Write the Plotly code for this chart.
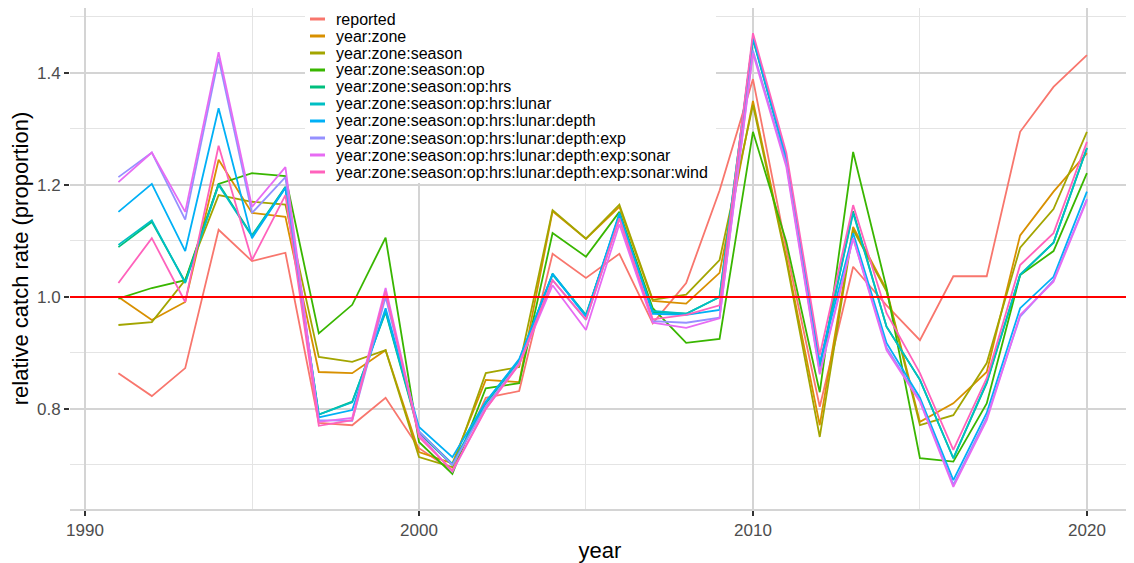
import plotly.graph_objects as go

years = list(range(1991, 2021))

series_names = [
    "reported",
    "year:zone",
    "year:zone:season",
    "year:zone:season:op",
    "year:zone:season:op:hrs",
    "year:zone:season:op:hrs:lunar",
    "year:zone:season:op:hrs:lunar:depth",
    "year:zone:season:op:hrs:lunar:depth:exp",
    "year:zone:season:op:hrs:lunar:depth:exp:sonar",
    "year:zone:season:op:hrs:lunar:depth:exp:sonar:wind",
]

colors = ["#F8766D", "#D89000", "#A3A500", "#39B600", "#00BF7D",
          "#00BFC4", "#00B0F6", "#9590FF", "#E76BF3", "#FF62BC"]

reported = [0.864, 0.823, 0.873, 1.120, 1.064, 1.079, 0.775, 0.771, 0.820, 0.730,
            0.690, 0.820, 0.832, 1.077, 1.034, 1.077, 0.953, 1.025, 1.190, 1.389,
            1.085, 0.804, 1.054, 0.985, 0.923, 1.037, 1.037, 1.295, 1.375, 1.432]
zone = [1.000, 0.959, 0.991, 1.245, 1.150, 1.143, 0.866, 0.864, 0.905, 0.723,
        0.703, 0.852, 0.848, 1.153, 1.104, 1.161, 0.993, 0.988, 1.043, 1.350,
        1.070, 0.771, 1.125, 1.013, 0.777, 0.810, 0.866, 1.110, 1.188, 1.257]
season = [0.950, 0.955, 1.030, 1.182, 1.170, 1.165, 0.893, 0.884, 0.905, 0.714,
          0.696, 0.864, 0.875, 1.155, 1.104, 1.165, 0.995, 1.004, 1.066, 1.343,
          1.065, 0.750, 1.120, 1.010, 0.771, 0.789, 0.882, 1.088, 1.157, 1.295]
op = [0.997, 1.016, 1.030, 1.202, 1.221, 1.216, 0.935, 0.986, 1.106, 0.741,
      0.684, 0.837, 0.846, 1.114, 1.072, 1.152, 0.980, 0.918, 0.925, 1.295,
      1.098, 0.830, 1.259, 1.016, 0.712, 0.706, 0.810, 1.039, 1.082, 1.221]
hrs = [1.089, 1.134, 1.027, 1.202, 1.110, 1.197, 0.790, 0.813, 0.973, 0.757,
       0.700, 0.810, 0.886, 1.040, 0.968, 1.145, 0.973, 0.970, 1.000, 1.460,
       1.245, 0.875, 1.153, 0.947, 0.852, 0.712, 0.846, 1.039, 1.097, 1.266]
lunar = [1.093, 1.137, 1.025, 1.200, 1.108, 1.195, 0.790, 0.812, 0.975, 0.760,
         0.702, 0.812, 0.887, 1.042, 0.967, 1.147, 0.975, 0.970, 1.000, 1.462,
         1.247, 0.878, 1.150, 0.947, 0.852, 0.712, 0.848, 1.040, 1.097, 1.266]
depth = [1.152, 1.202, 1.082, 1.337, 1.105, 1.195, 0.785, 0.798, 0.980, 0.768,
         0.714, 0.813, 0.889, 1.041, 0.965, 1.150, 0.970, 0.968, 0.977, 1.464,
         1.248, 0.882, 1.114, 0.918, 0.820, 0.673, 0.793, 0.980, 1.036, 1.188]
exp_ = [1.214, 1.258, 1.138, 1.426, 1.150, 1.214, 0.780, 0.779, 1.000, 0.760,
        0.700, 0.805, 0.882, 1.030, 0.959, 1.140, 0.957, 0.954, 0.963, 1.440,
        1.238, 0.865, 1.105, 0.910, 0.815, 0.665, 0.785, 0.965, 1.030, 1.175]
sonar = [1.205, 1.258, 1.152, 1.437, 1.161, 1.232, 0.777, 0.784, 1.016, 0.755,
         0.688, 0.800, 0.880, 1.021, 0.941, 1.130, 0.954, 0.945, 0.962, 1.435,
         1.232, 0.862, 1.105, 0.905, 0.813, 0.661, 0.780, 0.968, 1.027, 1.173]
wind = [1.025, 1.105, 0.991, 1.270, 1.066, 1.182, 0.770, 0.780, 1.010, 0.750,
        0.690, 0.800, 0.880, 1.030, 0.960, 1.140, 0.960, 0.968, 0.985, 1.471,
        1.257, 0.896, 1.164, 0.971, 0.864, 0.727, 0.855, 1.057, 1.114, 1.277]

all_series = [reported, zone, season, op, hrs, lunar, depth, exp_, sonar, wind]

reference_level = 1.0

# ---- layout geometry (page has an 8px body margin) ----
FIG_W, FIG_H = 1126, 555
M_L, M_R, M_T, M_B = 62, 4, 0, 54
PLOT_W = FIG_W - M_L - M_R
PLOT_H = FIG_H - M_T - M_B
ORIGIN_X, ORIGIN_Y = 8 + M_L, 8 + M_T   # screen px of plot top-left


def px_to_paper(px, py):
    return (px - ORIGIN_X) / PLOT_W, 1 - (py - ORIGIN_Y) / PLOT_H


fig = go.Figure()
for name, col, vals in zip(series_names, colors, all_series):
    fig.add_trace(go.Scatter(x=years, y=vals, mode="lines", name=name,
                             line=dict(color=col, width=1.8), showlegend=False))

fig.add_shape(type="line", xref="paper", x0=0, x1=1, yref="y",
              y0=reference_level, y1=reference_level,
              line=dict(color="#FF0000", width=2), layer="above")

# ---- legend drawn inside the panel (ggplot style) ----
lx0, ly0 = px_to_paper(305, 8)
lx1, ly1 = px_to_paper(716, 183)
fig.add_shape(type="rect", xref="paper", yref="paper", x0=lx0, x1=lx1, y0=ly1, y1=ly0,
              fillcolor="white", line=dict(width=0), layer="above")
for i, (name, col) in enumerate(zip(series_names, colors)):
    row_y = 19 + 17 * i
    sx0, sy = px_to_paper(310, row_y)
    sx1, _ = px_to_paper(325, row_y)
    fig.add_shape(type="line", xref="paper", yref="paper", x0=sx0, x1=sx1, y0=sy, y1=sy,
                  line=dict(color=col, width=3), layer="above")
    tx, ty = px_to_paper(334, row_y)
    fig.add_annotation(xref="paper", yref="paper", x=tx, y=ty, text=name,
                       showarrow=False, xanchor="left", yanchor="middle",
                       font=dict(size=16, color="#000000"))

grid_major = "#D4D4D4"
grid_minor = "#E4E4E4"

fig.update_layout(
    width=FIG_W, height=FIG_H,
    margin=dict(l=M_L, r=M_R, t=M_T, b=M_B),
    paper_bgcolor="white", plot_bgcolor="white",
    font=dict(family="Liberation Sans, Arial, sans-serif", color="#000000"),
    showlegend=False,
)
fig.update_xaxes(
    range=[1989.55, 2021.29], tickvals=[1990, 2000, 2010, 2020],
    showgrid=True, gridcolor=grid_major, gridwidth=2,
    minor=dict(tickvals=[1995, 2005, 2015], showgrid=True, gridcolor=grid_minor, gridwidth=1),
    ticks="outside", ticklen=5, tickwidth=2, tickcolor="#333333",
    tickfont=dict(size=17, color="#4D4D4D"),
    showline=True, linecolor="#D4D4D4", linewidth=2,
    zeroline=False, automargin=False,
    title=dict(text="year", font=dict(size=22, color="#000000"), standoff=4),
)
fig.update_yaxes(
    range=[0.6214, 1.516], tickvals=[0.8, 1.0, 1.2, 1.4], ticktext=["0.8", "1.0", "1.2", "1.4"],
    showgrid=True, gridcolor=grid_major, gridwidth=2,
    minor=dict(tickvals=[0.7, 0.9, 1.1, 1.3, 1.5], showgrid=True, gridcolor=grid_minor, gridwidth=1),
    ticks="outside", ticklen=5, tickwidth=2, tickcolor="#333333",
    tickfont=dict(size=17, color="#4D4D4D"),
    showline=False, zeroline=False, automargin=False,
    title=dict(text="relative catch rate (proportion)", font=dict(size=22, color="#000000"), standoff=4),
)

fig.write_html("out.html")
